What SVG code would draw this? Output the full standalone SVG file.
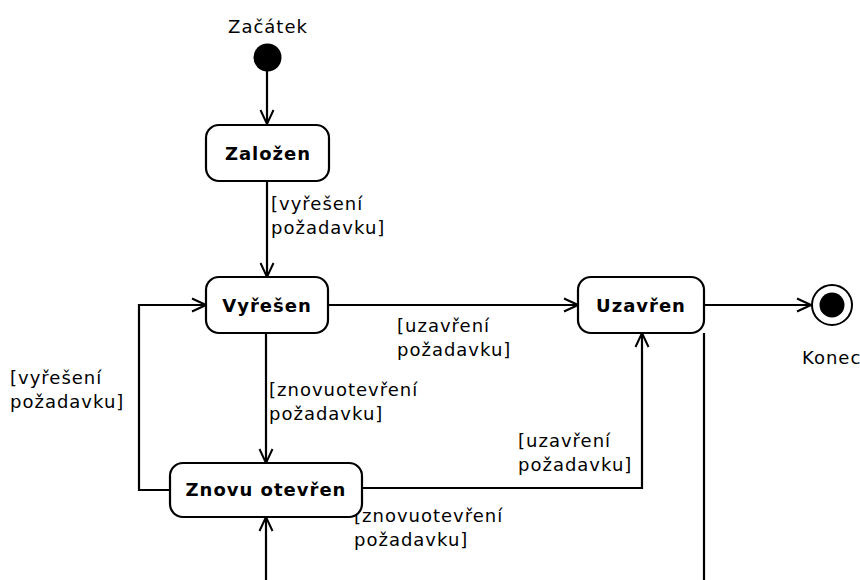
<svg xmlns="http://www.w3.org/2000/svg" width="860" height="580" viewBox="0 0 860 580">
  <style>
    .state { fill: #ffffff; stroke: #000000; stroke-width: 2.2; }
    .name { font-family: "DejaVu Sans", sans-serif; font-size: 18px; font-weight: bold; text-anchor: middle; letter-spacing: 1px; fill: #000; }
    .lbl { font-family: "DejaVu Sans", sans-serif; font-size: 18px; letter-spacing: 1px; fill: #000; }
    .edge { fill: none; stroke: #000000; stroke-width: 2.2; }
  </style>
  <defs>
    <marker id="open" viewBox="0 0 16 16" refX="15" refY="8" markerWidth="16" markerHeight="16" markerUnits="userSpaceOnUse" orient="auto">
      <path d="M1,1.5 L15,8 L1,14.5" fill="none" stroke="#000" stroke-width="2"/>
    </marker>
  </defs>
  <rect width="860" height="580" fill="#ffffff"/>

  <g id="connectors">
    <line class="edge" x1="267" y1="70" x2="267" y2="124" marker-end="url(#open)"/>
    <line class="edge" x1="267" y1="182" x2="267" y2="277" marker-end="url(#open)"/>
    <line class="edge" x1="328" y1="305" x2="578" y2="305" marker-end="url(#open)"/>
    <line class="edge" x1="704" y1="305" x2="811" y2="305" marker-end="url(#open)"/>
    <line class="edge" x1="266" y1="333" x2="266" y2="463" marker-end="url(#open)"/>
    <polyline class="edge" points="170,490 139,490 139,305 206,305" marker-end="url(#open)"/>
    <polyline class="edge" points="362,488 642,488 642,333" marker-end="url(#open)"/>
    <line class="edge" x1="704" y1="333" x2="704" y2="580"/>
    <line class="edge" x1="266" y1="580" x2="266" y2="517" marker-end="url(#open)"/>

    <text class="lbl" x="271" y="210">[vyřešení</text>
    <text class="lbl" x="271" y="234">požadavku]</text>
    <text class="lbl" x="397" y="332">[uzavření</text>
    <text class="lbl" x="397" y="356">požadavku]</text>
    <text class="lbl" x="10" y="384">[vyřešení</text>
    <text class="lbl" x="10" y="408">požadavku]</text>
    <text class="lbl" x="269" y="396">[znovuotevření</text>
    <text class="lbl" x="269" y="420">požadavku]</text>
    <text class="lbl" x="518" y="447">[uzavření</text>
    <text class="lbl" x="518" y="471">požadavku]</text>
    <text class="lbl" x="354" y="522">[znovuotevření</text>
    <text class="lbl" x="354" y="546">požadavku]</text>
  </g>

  <g id="start">
    <text class="lbl" x="268" y="33" text-anchor="middle">Začátek</text>
    <circle cx="267.5" cy="57.5" r="14" fill="#000"/>
  </g>

  <g id="zalozen">
    <rect class="state" x="206" y="125" width="123" height="56" rx="13"/>
    <text class="name" x="268" y="160">Založen</text>
  </g>

  <g id="vyresen">
    <rect class="state" x="206" y="277" width="122" height="56" rx="13"/>
    <text class="name" x="267" y="312">Vyřešen</text>
  </g>

  <g id="uzavren">
    <rect class="state" x="578" y="277" width="126" height="56" rx="13"/>
    <text class="name" x="641" y="312">Uzavřen</text>
  </g>

  <g id="znovu-otevren">
    <rect class="state" x="170" y="463" width="192" height="54" rx="13"/>
    <text class="name" x="266" y="496">Znovu otevřen</text>
  </g>

  <g id="end">
    <circle cx="832" cy="305" r="20" fill="#fff" stroke="#000" stroke-width="2"/>
    <circle cx="832" cy="305" r="12.5" fill="#000"/>
    <text class="lbl" x="802" y="364">Konec</text>
  </g>
</svg>
